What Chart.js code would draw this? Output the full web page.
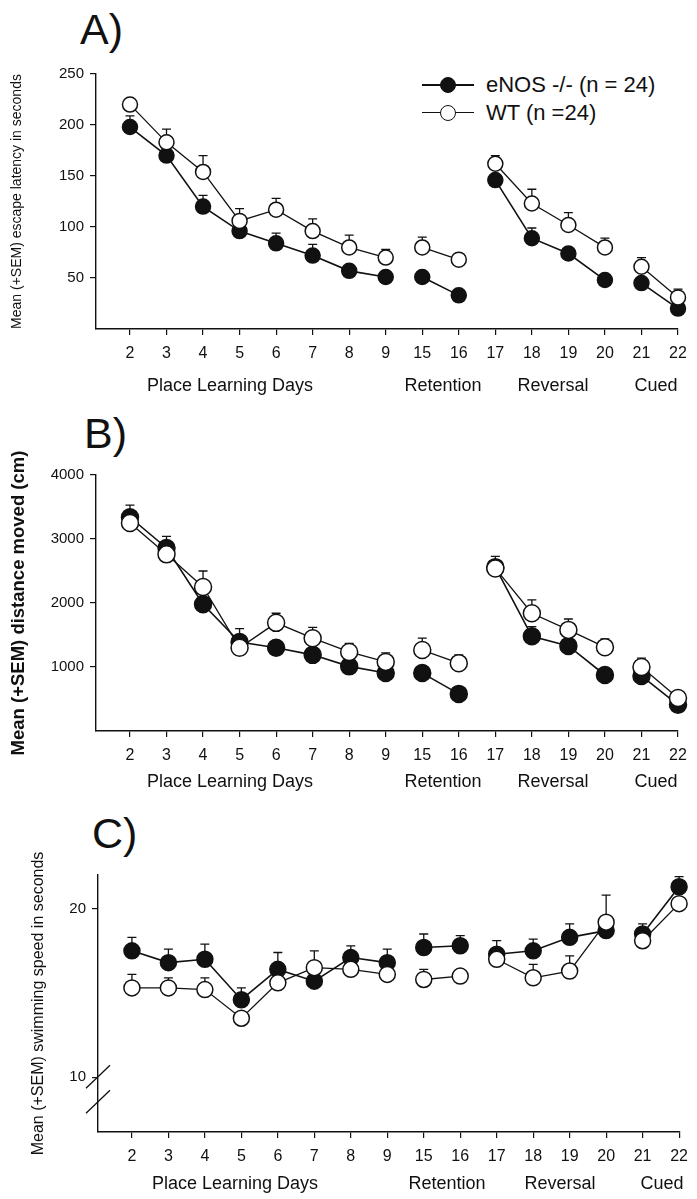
<!DOCTYPE html>
<html>
<head>
<meta charset="utf-8">
<script src="https://cdn.jsdelivr.net/npm/chart.js@4.4.1/dist/chart.umd.min.js"></script>
<style>
body { margin:0; background:#fff; width:697px; height:1199px; position:relative; overflow:hidden;
       font-family:"Liberation Sans", Arial, sans-serif; color:#111; }
canvas { position:absolute; left:0; }
.letter { position:absolute; font-size:43px; line-height:1; }
.phase { position:absolute; font-size:18px; line-height:1; transform:translate(-50%, -50%); white-space:nowrap; }
.leg { position:absolute; left:422px; height:26px; display:flex; align-items:center; font-size:22px; }
.leg .glyph { position:relative; width:52px; height:26px; margin-right:12px; }
.leg .glyph .ln { position:absolute; left:0; right:0; top:12px; height:1.6px; background:#111; }
.leg .glyph .dot { position:absolute; left:18px; top:5px; width:14px; height:14px; border:1.5px solid #111; border-radius:50%; }
</style>
</head>
<body>

<div class="letter" style="left:80px; top:8px;">A)</div>
<div class="letter" style="left:84px; top:412px;">B)</div>
<div class="letter" style="left:92px; top:812px;">C)</div>

<div class="leg" style="top:72px;"><div class="glyph"><div class="ln"></div><div class="dot" style="background:#111;"></div></div>eNOS -/- (n = 24)</div>
<div class="leg" style="top:100px;"><div class="glyph"><div class="ln" style="height:1px;"></div><div class="dot" style="background:#fff;"></div></div>WT (n =24)</div>

<canvas id="chartA" width="697" height="372" style="top:0px;"></canvas>
<canvas id="chartB" width="697" height="380" style="top:390px;"></canvas>
<canvas id="chartC" width="697" height="400" style="top:790px;"></canvas>

<script>
// test days (x axis), new phase starts at index 8, 10, 14 -> no line into them
var days = ['2', '3', '4', '5', '6', '7', '8', '9', '15', '16', '17', '18', '19', '20', '21', '22'];
var phaseStarts = [8, 10, 14];
var phaseNames = ['Place Learning Days', 'Retention', 'Reversal', 'Cued'];

// A) escape latency (s)
var latency_enos = [198, 170, 120, 96, 84, 72, 57, 51, 51, 33, 146, 89, 74, 48, 45, 20];
var latency_enos_sem = [11, 5, 11, 5, 10, 11, 5, 4, 4, 3, 5, 10, 5, 4, 4, 3];
var latency_wt = [220, 183, 154, 106, 117, 96, 80, 70, 80, 68, 162, 123, 102, 80, 61, 31];
var latency_wt_sem = [5, 13, 16, 12, 11, 12, 12, 8, 10, 4, 8, 14, 12, 9, 9, 8];
var latency_ticks = [50, 100, 150, 200, 250];

// B) distance moved (cm)
var distance_enos = [3340, 2860, 1980, 1390, 1300, 1190, 1010, 905, 905, 580, 2560, 1480, 1330, 875, 860, 410];
var distance_enos_sem = [190, 180, 100, 210, 100, 100, 90, 80, 80, 70, 100, 150, 100, 80, 80, 60];
var distance_wt = [3250, 2760, 2250, 1300, 1690, 1450, 1235, 1080, 1265, 1060, 2540, 1840, 1580, 1310, 1000, 515];
var distance_wt_sem = [150, 200, 250, 150, 150, 170, 135, 140, 185, 130, 190, 210, 170, 130, 140, 80];
var distance_ticks = [1000, 2000, 3000, 4000];

// C) swimming speed
var speed_enos = [17.5, 16.8, 17.0, 14.6, 16.4, 15.7, 17.1, 16.8, 17.7, 17.8, 17.3, 17.5, 18.3, 18.7, 18.5, 21.3];
var speed_enos_sem = [0.8, 0.8, 0.9, 0.7, 1.0, 0.4, 0.7, 0.8, 0.8, 0.6, 0.8, 0.7, 0.8, 0.3, 0.6, 0.6];
var speed_wt = [15.3, 15.3, 15.2, 13.5, 15.6, 16.5, 16.4, 16.1, 15.8, 16.0, 17.0, 15.9, 16.3, 19.2, 18.1, 20.3];
var speed_wt_sem = [0.8, 0.6, 0.7, 0.3, 0.3, 1.0, 0.3, 0.3, 0.6, 0.3, 0.3, 0.8, 0.9, 1.6, 0.3, 0.3];
var speed_ticks = [10, 20];

var FONT = '"Liberation Sans", Arial, sans-serif';
var INK = '#111';

// +SEM bars, drawn under the points
var errorBars = {
    id: 'errorBars',
    beforeDatasetsDraw: function(chart) {
        var ctx = chart.ctx;
        var yScale = chart.scales.y;
        ctx.save();
        ctx.strokeStyle = INK;
        ctx.lineWidth = 1.3;
        chart.data.datasets.forEach(function(ds, i) {
            chart.getDatasetMeta(i).data.forEach(function(pt, j) {
                var top = yScale.getPixelForValue(ds.data[j].y + ds.sem[j]);
                ctx.beginPath();
                ctx.moveTo(pt.x, pt.y);
                ctx.lineTo(pt.x, top);
                ctx.moveTo(pt.x - 4.5, top);
                ctx.lineTo(pt.x + 4.5, top);
                ctx.stroke();
            });
        });
        ctx.restore();
    }
};

// the // marks on the broken y axis of panel C
var axisBreak = {
    id: 'axisBreak',
    afterDraw: function(chart, args, opts) {
        if (!opts.at) return;
        var ctx = chart.ctx;
        var x = chart.chartArea.left;
        var y = chart.scales.y.getPixelForValue(opts.at);
        ctx.save();
        ctx.strokeStyle = INK;
        ctx.lineWidth = 1.3;
        [0, 25].forEach(function(dy) {
            ctx.beginPath();
            ctx.moveTo(x - 12, y + 11 + dy);
            ctx.lineTo(x + 12, y - 12 + dy);
            ctx.stroke();
        });
        ctx.restore();
    }
};

function points(values) {
    return values.map(function(v, i) { return {x: i, y: v}; });
}

function lineColor(c) {
    return phaseStarts.indexOf(c.p1DataIndex) >= 0 ? 'rgba(0,0,0,0)' : INK;
}

function makeChart(id, enos, enosSem, wt, wtSem, yMin, yMax, yTicks, yTitle, look) {
    var ctx = document.getElementById(id).getContext('2d');
    return new Chart(ctx, {
        type: 'line',
        data: {
            datasets: [{
                label: 'WT (n =24)',
                data: points(wt),
                sem: wtSem,
                borderColor: INK,
                borderWidth: 1.3,
                pointRadius: look.radius,
                pointBackgroundColor: '#fff',
                pointBorderColor: INK,
                pointBorderWidth: 1.5,
                segment: { borderColor: lineColor },
                clip: false
            }, {
                label: 'eNOS -/- (n = 24)',
                data: points(enos),
                sem: enosSem,
                borderColor: INK,
                borderWidth: 1.6,
                pointRadius: look.radius,
                pointBackgroundColor: INK,
                pointBorderColor: INK,
                pointBorderWidth: 1.5,
                segment: { borderColor: lineColor },
                clip: false
            }]
        },
        plugins: [errorBars, axisBreak],
        options: {
            responsive: false,
            animation: false,
            events: [],
            layout: { padding: { left: 8, right: look.right, top: look.top, bottom: 0 } },
            plugins: {
                legend: { display: false },
                tooltip: { enabled: false },
                axisBreak: { at: look.breakAt }
            },
            scales: {
                x: {
                    type: 'linear',
                    min: -0.93,
                    max: days.length - 1,
                    afterBuildTicks: function(s) {
                        s.ticks = days.map(function(d, i) { return {value: i}; });
                    },
                    afterFit: function(s) { s.height = look.xHeight; },
                    ticks: {
                        color: INK,
                        padding: 9,
                        maxRotation: 0,
                        autoSkip: false,
                        font: { family: FONT, size: look.xFont },
                        callback: function(v) { return days[v]; }
                    },
                    grid: { drawOnChartArea: false, color: INK, tickLength: 6, lineWidth: 1.2 },
                    border: { color: INK, width: 1.4 }
                },
                y: {
                    min: yMin,
                    max: yMax,
                    afterBuildTicks: function(s) {
                        s.ticks = yTicks.map(function(v) { return {value: v}; });
                    },
                    afterFit: function(s) { s.width = look.yWidth; },
                    ticks: {
                        color: INK,
                        padding: 6,
                        font: { family: FONT, size: 15 },
                        callback: function(v) { return String(v); }
                    },
                    grid: { drawOnChartArea: false, color: INK, tickLength: 6, lineWidth: 1.2 },
                    border: { color: INK, width: 1.4 },
                    title: {
                        display: true,
                        text: yTitle,
                        color: INK,
                        padding: { top: look.titlePad, bottom: 0 },
                        font: { family: FONT, size: look.titleSize, weight: look.titleWeight }
                    }
                }
            }
        }
    });
}

makeChart('chartA', latency_enos, latency_enos_sem, latency_wt, latency_wt_sem, 0, 250, latency_ticks,
    'Mean (+SEM) escape latency in seconds',
    { radius: 7.5, right: 19, top: 74, xHeight: 43, yWidth: 88, xFont: 16, titlePad: 1, titleSize: 14, titleWeight: 'normal' });

makeChart('chartB', distance_enos, distance_enos_sem, distance_wt, distance_wt_sem, 0, 4000, distance_ticks,
    'Mean (+SEM) distance moved (cm)',
    { radius: 8.5, right: 19, top: 85, xHeight: 39, yWidth: 88, xFont: 16, titlePad: 0, titleSize: 18.5, titleWeight: 'bold' });

makeChart('chartC', speed_enos, speed_enos_sem, speed_wt, speed_wt_sem, 6.75, 22, speed_ticks,
    'Mean (+SEM) swimming speed in seconds',
    { radius: 8, right: 17, top: 85, xHeight: 58, yWidth: 90, xFont: 16, titlePad: 21, titleSize: 16, titleWeight: 'normal', breakAt: 10 });

// phase names under each x axis
var phaseX = [[230, 443, 553, 656], [230, 443, 553, 656], [235, 447, 560, 662]];
var phaseY = [385, 781, 1183];
phaseY.forEach(function(y, p) {
    phaseNames.forEach(function(name, k) {
        var el = document.createElement('div');
        el.className = 'phase';
        el.textContent = name;
        el.style.left = phaseX[p][k] + 'px';
        el.style.top = y + 'px';
        document.body.appendChild(el);
    });
});
</script>
</body>
</html>
